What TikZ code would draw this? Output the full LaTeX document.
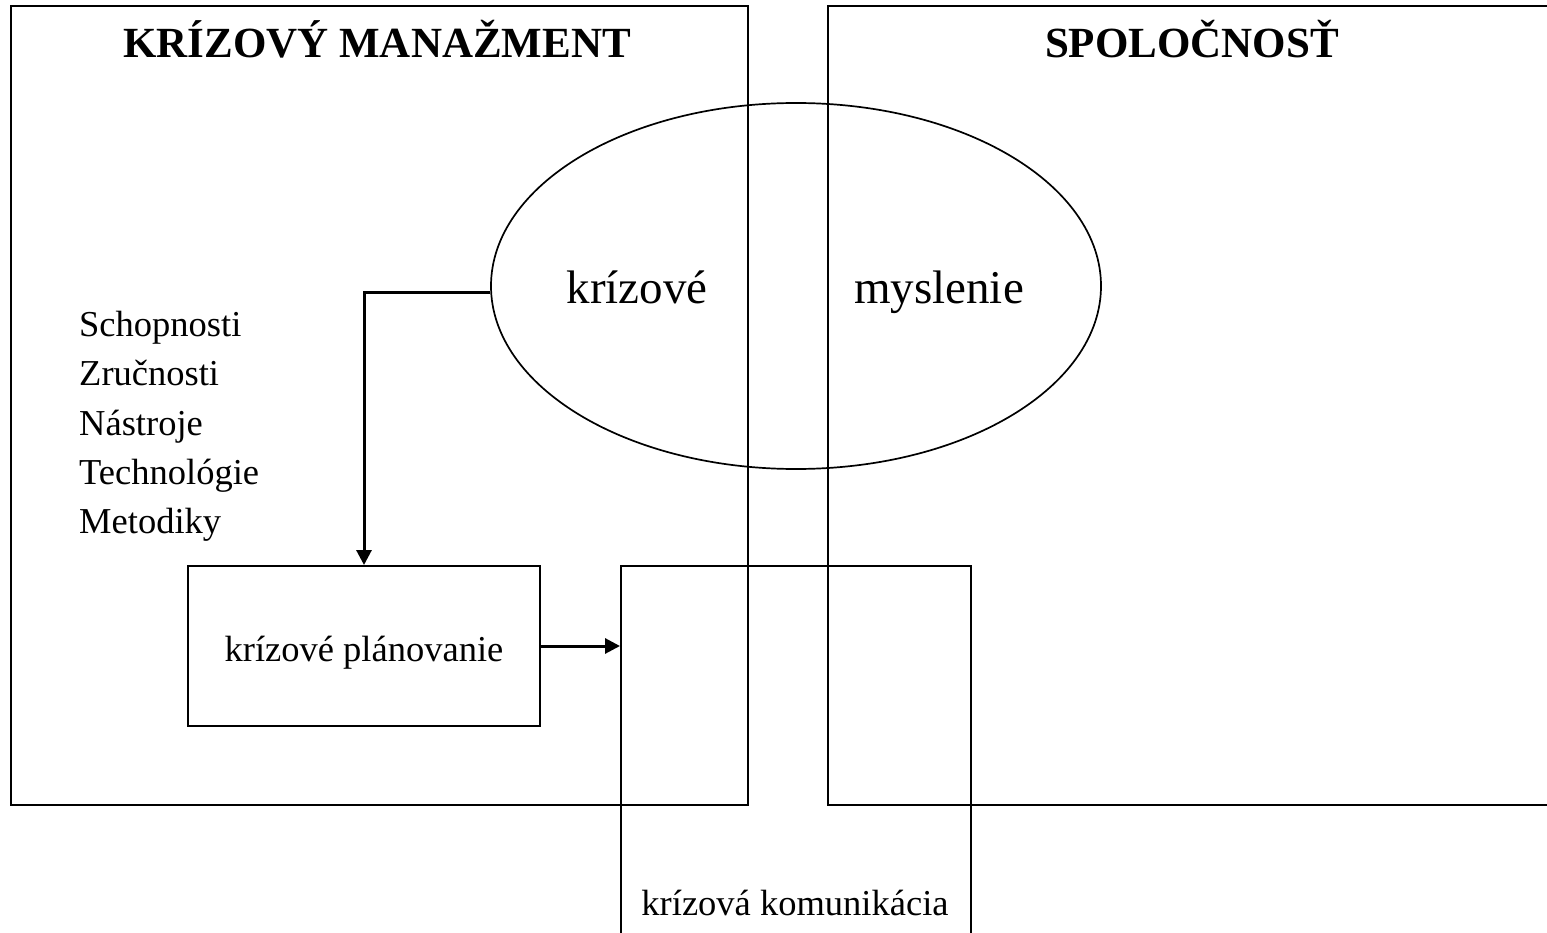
\documentclass[tikz,border=0pt]{standalone}
\usepackage{fontspec}
\setmainfont{Liberation Serif}
\usetikzlibrary{shapes.geometric,arrows.meta}
\begin{document}
\begin{tikzpicture}[x=1pt,y=-1pt,
  frame/.style={draw,line width=2pt,rectangle,inner sep=0pt},
  title/.style={font=\fontsize{43}{50}\selectfont\bfseries,anchor=base,inner sep=0pt},
  small/.style={font=\fontsize{36.5}{44}\selectfont,inner sep=0pt},
  big/.style={font=\fontsize{47}{56}\selectfont,anchor=base,inner sep=0pt},
  conn/.style={line width=3pt,-{Triangle[width=15pt,length=15pt]}}]
\useasboundingbox (0,0) rectangle (1547,933);
% main frames
\node[frame,minimum width=737pt,minimum height=799pt] (km) at (379.5,405.5) {};
\node[frame,minimum width=740pt,minimum height=799pt] (sp) at (1198,405.5) {};
% ellipse
\node[draw,ellipse,line width=1.7pt,minimum width=610pt,minimum height=366pt,inner sep=0pt] (ell) at (796,286) {};
% boxes
\node[frame,minimum width=352pt,minimum height=160pt] (plan) at (364,646) {};
\node[frame,minimum width=350pt,minimum height=390pt] (kom) at (796,761) {};
% texts
\node[title] (t1) at (377,58) {KRÍZOVÝ MANAŽMENT};
\node[title] (t2) at (1192,58) {SPOLOČNOSŤ};
\node[big] (e1) at (637,304) {krízové};
\node[big] (e2) at (939,304) {myslenie};
\node[small,anchor=base west] (l1) at (79,336) {Schopnosti};
\node[small,anchor=base west] (l2) at (79,385.5) {Zručnosti};
\node[small,anchor=base west] (l3) at (79,435) {Nástroje};
\node[small,anchor=base west] (l4) at (79,484) {Technológie};
\node[small,anchor=base west] (l5) at (79,533.5) {Metodiky};
\node[small,anchor=base] (pt) at (364,661) {krízové plánovanie};
\node[small,anchor=base] (kt) at (795,915) {krízová komunikácia};
% connectors
\draw[conn] ([yshift=-7pt]ell.west) -| (plan.north);
\draw[conn] (plan.east) -- (plan.east -| kom.west);
\end{tikzpicture}
\end{document}
